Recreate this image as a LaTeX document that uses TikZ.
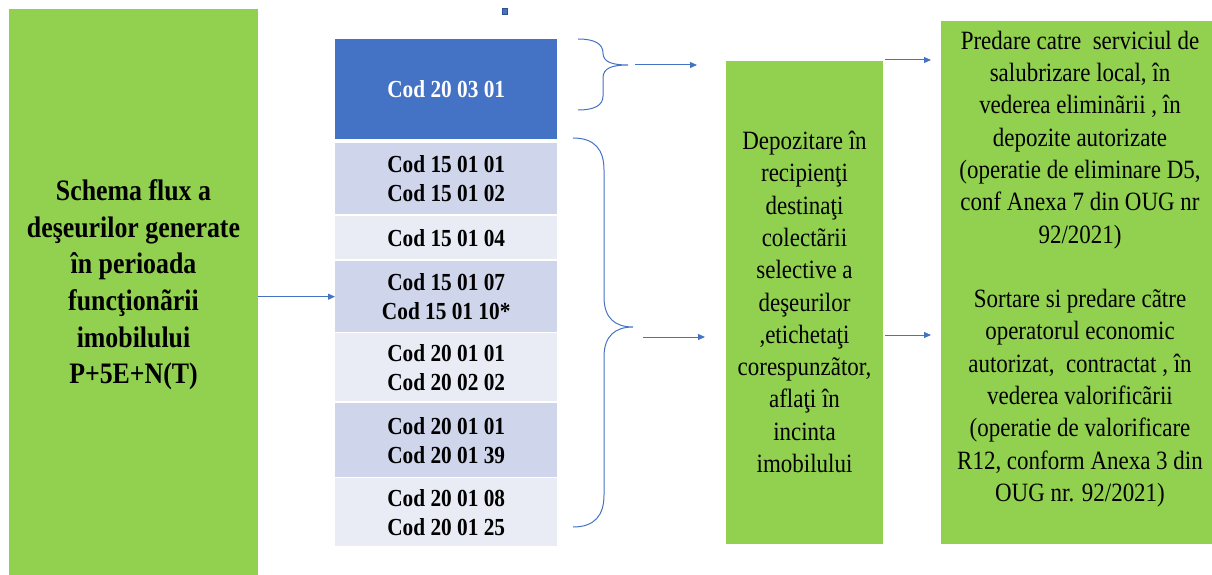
\documentclass[tikz,border=0pt]{standalone}
\usepackage{fontspec}
\setmainfont[FakeStretch=0.87]{Liberation Serif}
\usetikzlibrary{arrows.meta}
\definecolor{lgreen}{HTML}{92D050}
\definecolor{oblue}{HTML}{4472C4}
\definecolor{rowdark}{HTML}{CFD5EA}
\definecolor{rowlight}{HTML}{E9EBF5}
\definecolor{bordblue}{HTML}{2F528F}
\tikzset{
  gbox/.style={fill=lgreen, draw=none, inner sep=0pt, anchor=north west},
  codebox/.style={draw=none, inner sep=0pt, anchor=north west, minimum width=222pt,
    align=center, font=\fontsize{24.5}{29}\selectfont\bfseries},
  darkrow/.style={codebox, fill=rowdark},
  lightrow/.style={codebox, fill=rowlight},
  bodytext/.style={align=center, font=\fontsize{26.4}{32.3}\selectfont, inner sep=0pt},
  titletext/.style={align=center, font=\fontsize{29.7}{36.6}\selectfont\bfseries, inner sep=0pt},
  arr/.style={draw=oblue, line width=1pt, -{Triangle[length=7pt,width=6pt]}},
  brace/.style={draw=oblue, line width=1pt},
}
\begin{document}
\begin{tikzpicture}[x=1pt,y=-1pt]
\useasboundingbox (0,0) rectangle (1212,575);
% left box
\node[gbox, minimum width=249pt, minimum height=566pt] (left) at (9,9) {};
\node[titletext] (lefttxt) at (133.5,285) {Schema flux a\\deşeurilor generate\\în perioada\\funcţionãrii\\imobilului\\P+5E+N(T)};
% small square
\node[draw=bordblue, fill=oblue, line width=0.6pt, minimum width=5pt, minimum height=6pt, inner sep=0pt] (dot) at (504.5,11.5) {};
% code column
\node[codebox, fill=oblue, text=white, minimum height=100pt] (blue) at (335,39) {Cod 20 03 01};
\node[darkrow, minimum height=71pt] (r1) at (335,143) {Cod 15 01 01\\Cod 15 01 02};
\node[lightrow, minimum height=43pt] (r2) at (335,216) {Cod 15 01 04};
\node[darkrow, minimum height=71pt] (r3) at (335,261) {Cod 15 01 07\\Cod 15 01 10*};
\node[lightrow, minimum height=68pt] (r4) at (335,333) {Cod 20 01 01\\Cod 20 02 02};
\node[darkrow, minimum height=74pt] (r5) at (335,403) {Cod 20 01 01\\Cod 20 01 39};
\node[lightrow, minimum height=68pt] (r6) at (335,478) {Cod 20 01 08\\Cod 20 01 25};
% middle box
\node[gbox, minimum width=157pt, minimum height=483pt] (mid) at (726,61) {};
\node[bodytext] (midtxt) at (804.5,302) {Depozitare în\\recipienţi\\destinaţi\\colectãrii\\selective a\\deşeurilor\\,etichetaţi\\corespunzãtor,\\aflaţi în\\incinta\\imobilului};
% right box
\node[gbox, minimum width=271pt, minimum height=523pt] (right) at (941,21) {};
\node[bodytext] (righttxt) at (1080,269) {Predare catre \ serviciul de\\salubrizare local, în\\vederea eliminãrii , în\\depozite autorizate\\(operatie de eliminare D5,\\conf Anexa 7 din OUG nr\\92/2021)\\[32.3pt]Sortare si predare cãtre\\operatorul economic\\autorizat, \ contractat , în\\vederea valorificãrii\\(operatie de valorificare\\R12, conform Anexa 3 din\\OUG nr. 92/2021)};
% braces
\coordinate (tb) at (628,65);
\coordinate (bb) at (633,327);
\draw[brace] (578,39) .. controls (595,39) and (603,44) .. (603,53)
  .. controls (603,62) and (612,65) .. (tb)
  .. controls (612,65) and (603,68) .. (603,78) -- (603,96)
  .. controls (603,105) and (595,110) .. (578,110);
\draw[brace] (573,138) .. controls (595,138) and (604,150) .. (604,170) -- (604,297)
  .. controls (604,318) and (615,327) .. (bb)
  .. controls (615,327) and (604,336) .. (604,357) -- (604,495)
  .. controls (604,515) and (595,527) .. (573,527);
% arrows
\coordinate (t1s) at (635,65);
\coordinate (t1e) at (697,65);
\coordinate (b1s) at (643,337);
\coordinate (b1e) at (705,337);
\draw[arr] (left.east |- r3.west) -- (r3.west);
\draw[arr] (t1s) -- (t1e);
\draw[arr] (b1s) -- (b1e);
\draw[arr, shorten <=2pt, shorten >=10pt] (mid.east |- 0,60) -- (right.west |- 0,60);
\draw[arr, shorten <=2pt, shorten >=10pt] (mid.east |- 0,335) -- (right.west |- 0,335);
\end{tikzpicture}
\end{document}
